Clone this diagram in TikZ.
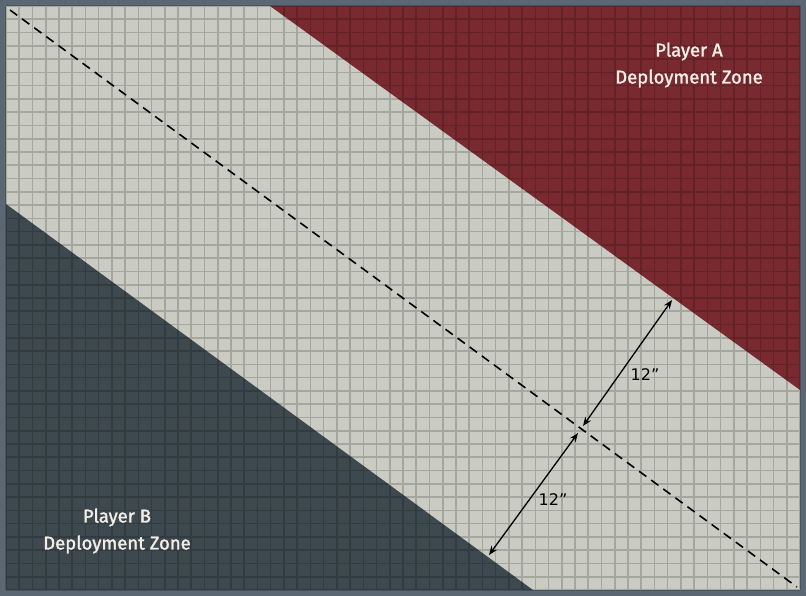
\documentclass[tikz,border=0pt]{standalone}
\usepackage{fontspec}
\setmainfont{Fira Sans}
\newfontfamily\dimfont{DejaVu Sans}
\usetikzlibrary{arrows.meta}
\definecolor{frameC}{HTML}{5B6772}
\definecolor{tableC}{HTML}{CACCC3}
\definecolor{redC}{HTML}{782A30}
\definecolor{blueC}{HTML}{3E484F}
\definecolor{labelC}{HTML}{F2EEE6}
\tikzset{
  zonelabel/.style={text=labelC, font=\fontsize{18.5}{27}\selectfont\addfontfeatures{FakeBold=1.6}, align=center, inner sep=0pt},
  dimlabel/.style={text=black, font=\dimfont\fontsize{16}{18}\selectfont, inner sep=0pt},
  midline/.style={black, line width=1.6pt, dash pattern=on 9pt off 6pt},
  dimarrow/.style={black, line width=1.3pt, {Stealth[length=9pt,width=7pt]}-{Stealth[length=9pt,width=7pt]}},
  gridline/.style={black, opacity=0.18, line width=1.6pt},
}
\begin{document}
\begin{tikzpicture}[x=1pt,y=-1pt]
\useasboundingbox (0,0) rectangle (806,596);
\fill[frameC] (0,0) rectangle (806,596);
\fill[tableC] (6,6) rectangle (800,590);
% zones
\fill[redC] (270,6) -- (800,6) -- (800,390) -- cycle;
\fill[blueC] (6,204) -- (6,590) -- (533,590) -- cycle;
% grid 60 x 44
\draw[gridline]
  \foreach \i in {0,...,60} { ({6+\i*13.2333},6) -- ({6+\i*13.2333},590) }
  \foreach \j in {0,...,44} { (6,{6+\j*13.2727}) -- (800,{6+\j*13.2727}) };
% centre line
\coordinate (d1) at (10,10);
\coordinate (d2) at (797,587);
\draw[midline] (d1) -- (d2);
% dimension arrows
\coordinate (ca) at (583,426);
\coordinate (cb) at (578,433);
\coordinate (ta) at (672,300);
\coordinate (tb) at (489,555);
\draw[dimarrow] (ca) -- (ta);
\draw[dimarrow] (cb) -- (tb);
\node[dimlabel] (la) at (645,375) {12”};
\node[dimlabel] (lb) at (553,500) {12”};
% zone labels
\node[zonelabel] (za) at (689,65) {Player A\\Deployment Zone};
\node[zonelabel] (zb) at (117,531) {Player B\\Deployment Zone};
\end{tikzpicture}
\end{document}
